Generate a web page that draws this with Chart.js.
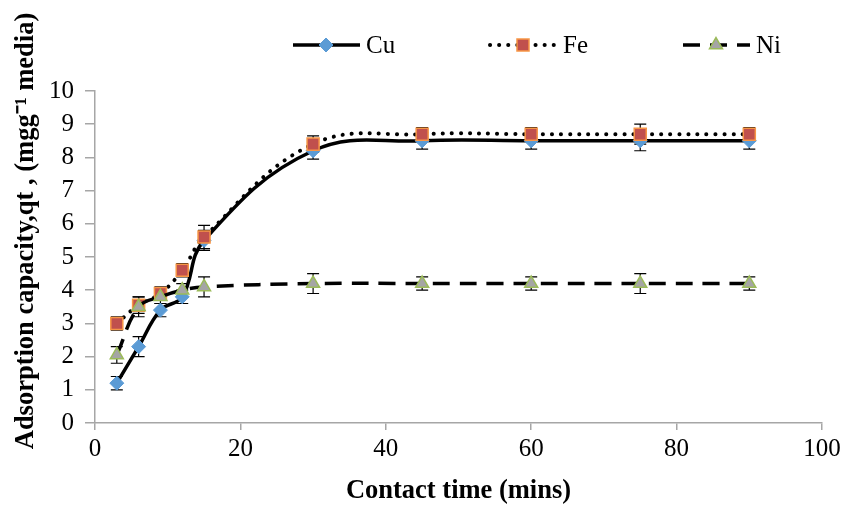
<!DOCTYPE html>
<html>
  <head>
    <meta charset="UTF-8">
    <title>adsorption chart</title>
    <script src="https://cdn.jsdelivr.net/npm/chart.js@4.4.1/dist/chart.umd.min.js"></script>
    <style type="text/css">
      html, body { margin: 0; padding: 0; background: #fff; }
      #wrap { width: 846px; height: 511px; }
    </style>
  </head>
  <body>
    <div id="wrap">
      <canvas id="myChart" width="846" height="511"></canvas>
    </div>
    <script>
    // contact time (mins)
    var times = [3, 6, 9, 12, 15, 30, 45, 60, 75, 90];
    var cu = [1.2, 2.3, 3.4, 3.8, 5.5, 8.2, 8.5, 8.5, 8.5, 8.5];
    var fe = [3.0, 3.55, 3.9, 4.6, 5.6, 8.4, 8.7, 8.7, 8.7, 8.7];
    var ni = [2.05, 3.5, 3.8, 4.0, 4.1, 4.2, 4.2, 4.2, 4.2, 4.2];
    var cuErr = [0.2, 0.3, 0.2, 0.2, 0.3, 0.25, 0.25, 0.25, 0.3, 0.25];
    var feErr = [0.2, 0.25, 0.2, 0.2, 0.35, 0.25, 0.2, 0.2, 0.3, 0.2];
    var niErr = [0.25, 0.3, 0.2, 0.2, 0.3, 0.3, 0.2, 0.2, 0.3, 0.2];
    var xTicks = [0, 20, 40, 60, 80, 100];
    var yTicks = [0, 1, 2, 3, 4, 5, 6, 7, 8, 9, 10];

    var FONT = "'Liberation Serif', 'Times New Roman', serif";

    function pts(ys) {
      var out = [];
      for (var i = 0; i < times.length; i++) out.push({x: times[i], y: ys[i]});
      return out;
    }

    var errorBars = {
      id: 'errorBars',
      beforeDatasetsDraw: function(chart) {
        var ctx = chart.ctx;
        var ys = chart.scales.y;
        ctx.save();
        ctx.strokeStyle = '#000';
        ctx.lineWidth = 1.2;
        chart.data.datasets.forEach(function(ds, di) {
          var meta = chart.getDatasetMeta(di);
          meta.data.forEach(function(p, i) {
            var v = ds.data[i].y, e = ds.errors[i];
            var y1 = ys.getPixelForValue(v - e), y2 = ys.getPixelForValue(v + e);
            ctx.beginPath();
            ctx.moveTo(p.x, y1); ctx.lineTo(p.x, y2);
            ctx.moveTo(p.x - 6, y1); ctx.lineTo(p.x + 6, y1);
            ctx.moveTo(p.x - 6, y2); ctx.lineTo(p.x + 6, y2);
            ctx.stroke();
          });
        });
        ctx.restore();
      }
    };

    var customText = {
      id: 'customText',
      afterDraw: function(chart) {
        var ctx = chart.ctx;
        ctx.save();
        // y axis title
        ctx.translate(26, 231);
        ctx.rotate(-Math.PI / 2);
        ctx.fillStyle = '#000';
        ctx.font = 'bold 26.5px ' + FONT;
        ctx.textAlign = 'center';
        ctx.textBaseline = 'middle';
        ctx.fillText('Adsorption capacity,qt , (mgg\u207B\u00B9 media)', 0, 0);
        ctx.restore();

        // legend: line sample with marker, then label
        var items = [[293, 0], [490, 1], [683, 2]];
        items.forEach(function(it) {
          var ds = chart.data.datasets[it[1]];
          var x0 = it[0], y = 45;
          ctx.save();
          ctx.strokeStyle = ds.borderColor;
          ctx.lineWidth = ds.borderWidth;
          ctx.lineCap = ds.borderCapStyle || 'butt';
          ctx.setLineDash(ds.borderDash || []);
          ctx.beginPath();
          ctx.moveTo(x0, y); ctx.lineTo(x0 + 67, y);
          ctx.stroke();
          ctx.setLineDash([]);
          ctx.fillStyle = ds.pointBackgroundColor;
          ctx.strokeStyle = ds.pointBorderColor;
          ctx.lineWidth = ds.pointBorderWidth;
          Chart.helpers.drawPoint(ctx, {
            pointStyle: ds.pointStyle, radius: ds.pointRadius,
            borderWidth: ds.pointBorderWidth, rotation: 0
          }, x0 + 33, y);
          ctx.fillStyle = '#000';
          ctx.font = '25px ' + FONT;
          ctx.textAlign = 'left';
          ctx.textBaseline = 'middle';
          ctx.fillText(ds.label, x0 + 73, y + 1);
          ctx.restore();
        });
      }
    };

    var ctx = document.getElementById('myChart').getContext('2d');
    var chart = new Chart(ctx, {
      type: 'line',
      data: {
        datasets: [{
          label: 'Cu',
          data: pts(cu),
          errors: cuErr,
          order: 3,
          borderColor: '#000',
          borderWidth: 3.5,
          tension: 0.4,
          pointStyle: 'rectRot',
          pointRadius: 7,
          pointBackgroundColor: '#5B9BD5',
          pointBorderColor: '#5B9BD5',
          pointBorderWidth: 1
        }, {
          label: 'Fe',
          data: pts(fe),
          errors: feErr,
          order: 2,
          borderColor: '#000',
          borderWidth: 4,
          borderDash: [0.1, 9],
          borderCapStyle: 'round',
          tension: 0.4,
          pointStyle: 'rect',
          pointRadius: 8.5,
          pointBackgroundColor: '#C0504D',
          pointBorderColor: '#F79646',
          pointBorderWidth: 1.5
        }, {
          label: 'Ni',
          data: pts(ni),
          errors: niErr,
          order: 1,
          borderColor: '#000',
          borderWidth: 3.5,
          borderDash: [17, 10],
          tension: 0.4,
          pointStyle: 'triangle',
          pointRadius: 7.5,
          pointBackgroundColor: '#A5A5A5',
          pointBorderColor: '#9BBB59',
          pointBorderWidth: 1.5
        }]
      },
      options: {
        responsive: false,
        animation: false,
        layout: { padding: { top: 91, right: 24, left: 0, bottom: 0 } },
        plugins: {
          legend: { display: false },
          tooltip: { enabled: false }
        },
        scales: {
          x: {
            type: 'linear',
            min: 0, max: 100,
            afterBuildTicks: function(s) { s.ticks = xTicks.map(function(v) { return {value: v}; }); },
            afterFit: function(s) { s.height = 88; },
            border: { color: '#A6A6A6', width: 1.5 },
            grid: { drawOnChartArea: false, color: '#A6A6A6', tickLength: 7, lineWidth: 1.5 },
            ticks: { color: '#000', font: { family: FONT, size: 25 }, padding: 4, maxRotation: 0 },
            title: {
              display: true, text: 'Contact time (mins)', color: '#000',
              font: { family: FONT, size: 26.5, weight: 'bold' }, padding: { top: 2 }
            }
          },
          y: {
            min: 0, max: 10,
            afterBuildTicks: function(s) { s.ticks = yTicks.map(function(v) { return {value: v}; }); },
            afterFit: function(s) { s.width = 95; },
            border: { color: '#A6A6A6', width: 1.5 },
            grid: { drawOnChartArea: false, color: '#A6A6A6', tickLength: 10, lineWidth: 1.5 },
            ticks: { color: '#000', font: { family: FONT, size: 25 }, padding: 11 }
          }
        }
      },
      plugins: [errorBars, customText]
    });
    </script>
  </body>
</html>
